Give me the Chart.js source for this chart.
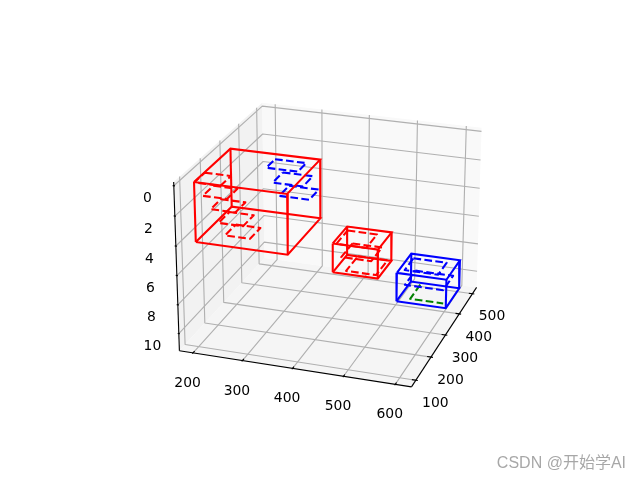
<!DOCTYPE html>
<html><head><meta charset="utf-8"><style>html,body{margin:0;padding:0;background:#fff}canvas{display:block}</style></head><body>
<canvas id="c" width="640" height="480"></canvas>
<script src="https://cdn.jsdelivr.net/npm/chart.js@4"></script>
<script>
// axis limits of the 3D box and tick values
const xLimits = [172, 631];
const yLimits = [72, 532];
const zLimits = [-0.25, 11.2];
const xTicks = [200, 300, 400, 500, 600];
const yTicks = [100, 200, 300, 400, 500];
const zTicks = [0, 2, 4, 6, 8, 10];
// solid boxes: xmin, xmax, ymin, ymax, ztop, zbottom
const redBoxes = [[200, 382, 101, 284, 0, 4], [421, 511, 243, 330, 5, 7]];
const blueBoxes = [[528, 627, 312, 409, 7.5, 9.5]];
// dashed rectangles: xmin, xmax, ymin, ymax, z
const redRects = [[201, 253, 99, 151, 0], [212, 260, 112, 165, 1], [222, 271, 124, 176, 2], [233, 282, 134, 190, 3], [240, 290, 148, 203, 4], [417, 477, 276, 345, 5.5], [435, 495, 252, 321, 6], [464, 523, 194, 266, 6]];
const blueRects = [[273, 337, 284, 332, 1], [298, 359, 251, 307, 1.5], [320, 380, 227, 281, 2], [527, 595, 368, 428, 8.1], [540, 617, 327, 398, 8.5]];
const greenEdges = [[559, 369, 9], [559, 300, 9], [625, 300, 9]];
const watermark = 'CSDN @开始学AI';

// camera as in a matplotlib 3D axes
const ELEV = 23.28 * Math.PI / 180, AZIM = -71.23 * Math.PI / 180, BOX = 0.298;
const A = 4 * BOX, B = 4 * BOX, C = 3 * BOX;
const U = [Math.cos(ELEV) * Math.cos(AZIM), Math.cos(ELEV) * Math.sin(AZIM), Math.sin(ELEV)];
const EYE = [A / 2 + 10 * U[0], B / 2 + 10 * U[1], C / 2 + 10 * U[2]];
const N = Math.hypot(U[0], U[1]);
const RIGHT = [-U[1] / N, U[0] / N, 0];
const UP = [U[1] * RIGHT[2] - U[2] * RIGHT[1], U[2] * RIGHT[0] - U[0] * RIGHT[2], U[0] * RIGHT[1] - U[1] * RIGHT[0]];
function project(x, y, z) {
  const p = [(x - xLimits[0]) / (xLimits[1] - xLimits[0]) * A - EYE[0],
             (y - yLimits[0]) / (yLimits[1] - yLimits[0]) * B - EYE[1],
             (zLimits[1] - z) / (zLimits[1] - zLimits[0]) * C - EYE[2]];
  const dot = q => q[0] * p[0] + q[1] * p[1] + q[2] * p[2];
  const w = -dot(U);
  return { x: dot(RIGHT) / w, y: dot(UP) / w };
}
const [x0, x1] = xLimits, [y0, y1] = yLimits, zT = zLimits[0], zB = zLimits[1];
const datasets = [];
function add(points3d, style) {
  datasets.push(Object.assign({ data: points3d.map(p => project(p[0], p[1], p[2])), showLine: true, pointRadius: 0, tension: 0, fill: false, clip: false, borderColor: '#000', borderWidth: 1.11, borderCapStyle: 'butt', borderJoinStyle: 'round', order: -datasets.length }, style));
}
// panes
add([[x0, y0, zT], [x0, y1, zT], [x0, y1, zB], [x0, y0, zB], [x0, y0, zT]], { fill: 'shape', backgroundColor: '#f2f2f2', borderWidth: 0 });
add([[x0, y1, zT], [x1, y1, zT], [x1, y1, zB], [x0, y1, zB], [x0, y1, zT]], { fill: 'shape', backgroundColor: '#f9f9f9', borderWidth: 0 });
add([[x0, y0, zB], [x1, y0, zB], [x1, y1, zB], [x0, y1, zB], [x0, y0, zB]], { fill: 'shape', backgroundColor: '#f5f5f5', borderWidth: 0 });
// grid
const grid = { borderColor: '#b0b0b0', borderWidth: 1.11 };
xTicks.forEach(v => add([[v, y0, zB], [v, y1, zB], [v, y1, zT]], grid));
yTicks.forEach(v => add([[x1, v, zB], [x0, v, zB], [x0, v, zT]], grid));
zTicks.forEach(v => add([[x0, y0, v], [x0, y1, v], [x1, y1, v]], grid));
// axes
add([[x0, y0, zB], [x1, y0, zB]], {});
add([[x1, y0, zB], [x1, y1, zB]], {});
add([[x0, y0, zB], [x0, y0, zT]], {});
// tick marks
const dx = (x1 - x0) / 12, dy = (y1 - y0) / 12;
xTicks.forEach(v => add([[v, y0 - 0.1 * dy, zB], [v, y0 + 0.2 * dy, zB]], {}));
yTicks.forEach(v => add([[x1 + 0.1 * dx, v, zB], [x1 - 0.2 * dx, v, zB]], {}));
zTicks.forEach(v => add([[x0 - 0.06 * dx, y0, v], [x0 + 0.06 * dx, y0, v]], {}));
// dashed rectangles
const dashed = color => ({ borderColor: color, borderWidth: 2.08, borderDash: [7.7, 3.33] });
function rect(r, color) {
  const [a, b, c, d, z] = r;
  add([[a, d, z], [b, d, z], [b, c, z], [a, c, z], [a, d, z]], dashed(color));
}
add(greenEdges, dashed('#008000'));
redRects.forEach(r => rect(r, '#ff0000'));
blueRects.forEach(r => rect(r, '#0000ff'));
// solid boxes
function box(r, color) {
  const [a, b, c, d, t, u] = r;
  const st = { borderColor: color, borderWidth: 2.08, borderJoinStyle: 'miter' };
  add([[a, c, t], [b, c, t], [b, d, t], [a, d, t], [a, c, t]], st);
  add([[a, c, u], [b, c, u], [b, d, u], [a, d, u], [a, c, u]], st);
  add([[a, c, t], [a, c, u]], st);
  add([[b, c, t], [b, c, u]], st);
  add([[b, d, t], [b, d, u]], st);
  add([[a, d, t], [a, d, u]], st);
}
redBoxes.forEach(r => box(r, '#ff0000'));
blueBoxes.forEach(r => box(r, '#0000ff'));

const labels = {
  id: 'labels',
  afterDraw(chart) {
    const g = chart.ctx, sx = chart.scales.x, sy = chart.scales.y;
    const put = (txt, p, ox, oy) => g.fillText(txt, sx.getPixelForValue(p.x) + ox, sy.getPixelForValue(p.y) + oy);
    g.save();
    g.fillStyle = '#000';
    g.font = '13.9px "DejaVu Sans"';
    g.textAlign = 'center';
    g.textBaseline = 'middle';
    xTicks.forEach(v => put(String(v), project(v, y0, zB), -5.5, 30.5));
    yTicks.forEach(v => put(String(v), project(x1, v, zB), 19.5, 23));
    zTicks.forEach(v => put(String(v), project(x0, y0, v), -26.4, 13));
    g.font = '16px "Liberation Sans","Noto Sans CJK SC"';
    g.fillStyle = 'rgba(120,120,120,0.65)';
    g.textAlign = 'right';
    g.fillText(watermark, 626, 463.5);
    g.restore();
  }
};
new Chart(document.getElementById('c'), {
  type: 'scatter',
  data: { datasets },
  options: {
    responsive: false, animation: false, events: [],
    layout: { padding: { left: 143.2, top: 57.6, right: 127.2, bottom: 52.8 } },
    plugins: { legend: { display: false }, tooltip: { enabled: false } },
    scales: {
      x: { type: 'linear', min: -0.095, max: 0.09, display: false },
      y: { type: 'linear', min: -0.095, max: 0.09, display: false }
    }
  },
  plugins: [labels]
});
</script></body></html>
